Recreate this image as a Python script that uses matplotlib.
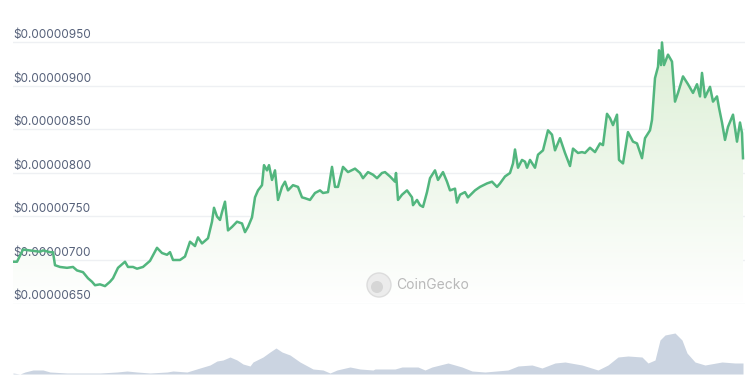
import numpy as np
import matplotlib.pyplot as plt
from matplotlib.patches import Circle

# price, in units of 1e-8 USD; t in hours from start
t = [0, 4, 10, 17, 27, 30, 37, 40, 42, 47, 54, 60, 64, 70, 75, 79, 82, 87, 92, 97,
     100, 105, 112, 115, 120, 124, 130, 137, 144, 149, 154, 157, 160, 167, 172, 177,
     182, 185, 189, 195, 199, 201, 204, 207, 209, 212, 215, 219, 224, 229, 232, 235,
     239, 242, 245, 249, 251, 254, 256, 259, 262, 265, 269, 272, 275, 280, 285, 289,
     292, 297, 302, 307, 310, 315, 319, 322, 325, 330, 335, 342, 347, 350, 355, 360,
     364, 369, 372, 377, 382, 383, 385, 389, 394, 399, 400, 404, 407, 410, 414, 417,
     422, 425, 430, 434, 437, 442, 444, 447, 452, 455, 462, 467, 474, 479, 484, 487,
     492, 497, 500, 502, 505, 509, 512, 514, 517, 522, 525, 530, 535, 539, 542, 547,
     552, 557, 560, 565, 569, 572, 577, 582, 587, 590, 594, 597, 600, 604, 606, 610,
     615, 620, 624, 629, 632, 637, 639, 642, 645, 646, 648, 649, 651, 655, 659, 662,
     665, 670, 675, 680, 684, 687, 689, 692, 697, 700, 704, 706, 709, 712, 715, 720,
     724, 727, 729, 730]
price = [698, 698, 712, 711, 709.5, 711, 709, 709, 694, 692, 691, 692, 688, 686, 679,
         675, 671, 672, 670, 675, 679, 691, 698, 692, 692, 690, 692, 699, 714, 708, 706,
         709, 700, 700, 704, 721, 716, 726, 719, 725, 744, 760, 750, 746, 755, 767, 734,
         738, 744, 742, 732, 738, 749, 772, 780, 786, 809, 803, 809, 792, 803, 769, 784,
         790, 780, 786, 784, 772, 771, 769, 777, 780, 777, 778, 807, 784, 784, 807, 801,
         805, 800, 794, 801, 798, 794, 800, 801, 796, 790, 800, 769, 775, 780, 772, 763,
         769, 763, 761, 778, 794, 803, 792, 801, 790, 780, 782, 766, 775, 778, 772, 780,
         784, 788, 790, 784, 788, 796, 800, 811, 827, 806, 815, 813, 806, 815, 806, 821,
         826, 849, 844, 826, 840, 823, 808, 828, 823, 824, 823, 829, 824, 834, 832, 868,
         863, 855, 867, 815, 811, 847, 836, 834, 817, 840, 849, 861, 909, 922, 941, 924,
         950, 924, 936, 928, 882, 892, 911, 902, 892, 902, 888, 915, 887, 899, 882, 888,
         875, 858, 838, 853, 867, 836, 858, 846, 817]

# volume, relative units
vol_t = [0, 7, 12, 20, 30, 37, 54, 67, 74, 87, 104, 114, 124, 137, 154, 160, 174, 187,
         197, 204, 210, 217, 224, 230, 237, 240, 250, 257, 263, 269, 277, 287, 300, 310,
         317, 324, 337, 347, 360, 362, 382, 389, 405, 412, 419, 435, 449, 459, 472, 495,
         505, 519, 529, 542, 552, 569, 585, 595, 605, 615, 629, 635, 642, 647, 652, 662,
         669, 674, 682, 692, 709, 722, 730]
volume = [1, 0, 2, 4, 4, 2, 1, 1, 1, 1, 2, 3, 2, 1, 2, 3, 2, 6, 9, 13, 14, 17, 14, 10,
          8, 12, 17, 22, 26, 22, 19, 12, 5, 4, 1, 4, 7, 5, 4, 5, 5, 7, 7, 4, 7, 11, 7,
          3, 2, 4, 8, 9, 6, 11, 12, 9, 4, 9, 17, 18, 17, 11, 14, 34, 39, 41, 34, 21, 12,
          9, 12, 11, 11]

grid_vals = [650, 700, 750, 800, 850, 900, 950]

line_col = '#52b67e'
text_col = '#56617a'

fig = plt.figure(figsize=(7.5, 3.75), dpi=100)
W, H = 750.0, 375.0

# main price axes
ax = fig.add_axes([13 / W, (H - 303.5) / H, 732 / W, 265.4 / H])
ax.set_xlim(0, 732)
ax.set_ylim(650, 955)
for s in ax.spines.values():
    s.set_visible(False)
ax.set_xticks([])
ax.set_yticks([])
ax.patch.set_alpha(0)

for g in grid_vals:
    ax.axhline(g, color='#eef0f3', lw=1, zorder=0)
    ax.annotate(f"${g * 1e-8:.8f}", xy=(0, g), xycoords=('axes fraction', 'data'),
                xytext=(0, 1), textcoords='offset points', ha='left', va='bottom',
                fontsize=8.5, color=text_col, family='Inter')

# gradient fill under the line
poly = ax.fill_between(t, price, 650, color='none', lw=0)
grad = np.linspace(0, 1, 256).reshape(-1, 1)
img = ax.imshow(grad, extent=[0, 730, 650, 955], origin='lower', aspect='auto',
                cmap=plt.matplotlib.colors.LinearSegmentedColormap.from_list(
                    'g', ['#ffffff', '#dcefd5']), zorder=1)
img.set_clip_path(poly.get_paths()[0], transform=ax.transData)

ax.plot(t, price, color=line_col, lw=1.8, zorder=3, solid_joinstyle='round')

# watermark
wm = fig.add_axes([0, 0, 1, 1])
wm.set_xlim(0, W)
wm.set_ylim(H, 0)
wm.axis('off')
wm.add_patch(Circle((379, 285), 12, facecolor='#ececec', edgecolor='#dcdcdc', lw=1))
wm.add_patch(Circle((377, 287), 6, facecolor='#d6d6d6', edgecolor='none'))
wm.text(396, 285, 'CoinGecko', fontsize=10, color='#b9b9b9', va='center', ha='left',
        family='Inter')

# volume axes
vax = fig.add_axes([13 / W, 1 / H, 732 / W, 45 / H])
vax.set_xlim(0, 732)
vax.set_ylim(0, 45)
vax.axis('off')
vax.fill_between(vol_t, volume, 0, color='#cbd4e1', lw=0)

fig.savefig('out.png', dpi=100, facecolor='white')
